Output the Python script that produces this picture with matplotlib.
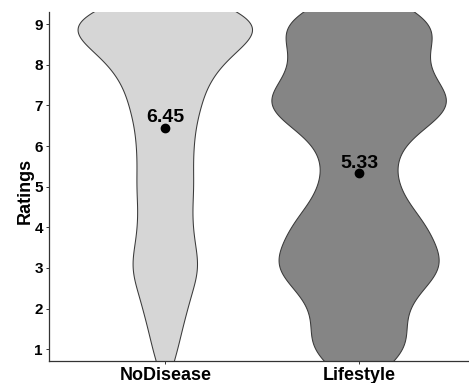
import numpy as np
import matplotlib.pyplot as plt

plt.rcParams['font.family'] = ['Liberation Sans', 'DejaVu Sans']

# ratings 1..9, approximate response counts per level for each group
categories = ["NoDisease", "Lifestyle"]
rating_levels = np.arange(1, 10)
nodisease_counts = [9, 15, 25, 18, 20, 19, 24, 35, 80]
lifestyle_counts = [18, 14, 30, 23, 12, 12, 35, 20, 29]
mean_ratings = [6.45, 5.33]

fills = ["#d6d6d6", "#858585"]
bw = 0.6
grid = np.linspace(-1.5, 11.5, 800)


def density(counts):
    counts = np.asarray(counts, dtype=float)
    k = np.exp(-0.5 * ((grid[:, None] - rating_levels[None, :]) / bw) ** 2)
    return (k * counts).sum(axis=1)


fig = plt.figure(figsize=(4.69, 3.83), dpi=100)
ax = fig.add_axes([49 / 469, 22 / 383, 420 / 469, 349 / 383])

for i, counts in enumerate([nodisease_counts, lifestyle_counts]):
    d = density(counts)
    half = 0.45 * d / d.max()
    x0 = i + 1
    ax.fill_betweenx(grid, x0 - half, x0 + half, facecolor=fills[i],
                     edgecolor="#3a3a3a", linewidth=0.75, zorder=2)

for i, m in enumerate(mean_ratings):
    ax.plot(i + 1, m, "o", color="black", markersize=6, zorder=3)
    ax.text(i + 1, m + 0.14, f"{m:.2f}", ha="center", va="baseline",
            fontsize=14, fontweight="bold", zorder=4)

ax.set_xlim(0.4, 2.567)
ax.set_ylim(0.71, 9.30)
ax.set_yticks(range(1, 10))
ax.set_xticks([1, 2])
ax.set_xticklabels(categories, fontsize=13, fontweight="bold")
for lab in ax.get_yticklabels():
    lab.set_fontweight("bold")
    lab.set_fontsize(11)

for s in ["top", "right"]:
    ax.spines[s].set_visible(False)
for s in ["left", "bottom"]:
    ax.spines[s].set_color("#333333")
    ax.spines[s].set_linewidth(0.9)
ax.tick_params(length=2.5, width=0.7, color="#333333", labelcolor="black", pad=2)

ax.set_ylabel("Ratings", fontsize=13, fontweight="bold")
ax.yaxis.set_label_coords(-0.036, 0.487)

fig.savefig("out.png", dpi=100)
